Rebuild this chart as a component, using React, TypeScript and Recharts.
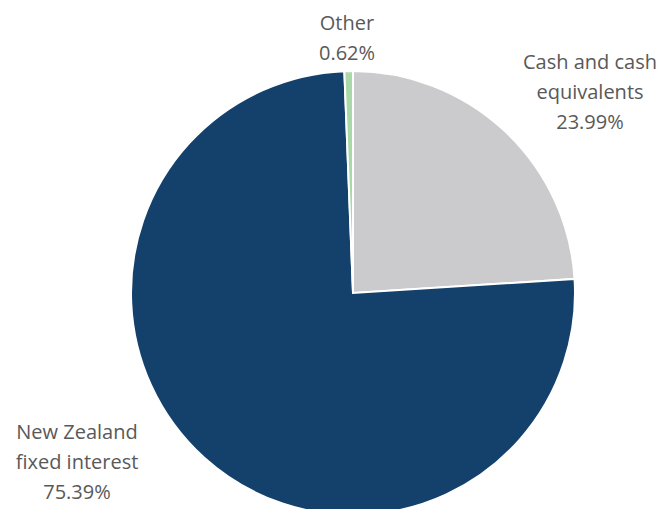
import { PieChart, Pie, Cell } from 'recharts'

const CATEGORIES = ['Cash and cash equivalents', 'New Zealand fixed interest', 'Other']
const VALUES = [23.99, 75.39, 0.62]
// label text lines per slice (category name wrapped as in the reference)
const LABEL_LINES = [
  ['Cash and cash', 'equivalents'],
  ['New Zealand', 'fixed interest'],
  ['Other'],
]

const COLORS = ['#cbcbcd', '#14416c', '#a9d8a9']
// label block centre, relative to pie centre
const LABEL_OFFSETS = [
  { dx: 237, dy: -202 },
  { dx: -276, dy: 168 },
  { dx: -6, dy: -256 },
]

const data = CATEGORIES.map((name, i) => ({ name, value: VALUES[i] }))

const FONT = '"Open Sans", sans-serif'
const LINE_H = 30

function renderLabel(props: any) {
  const { cx, cy, index, value } = props
  const off = LABEL_OFFSETS[index]
  const lines = [...LABEL_LINES[index], `${Number(value).toFixed(2)}%`]
  const x = cx + off.dx
  const top = cy + off.dy - ((lines.length - 1) * LINE_H) / 2
  return (
    <text
      key={`lbl-${index}`}
      x={x}
      y={top}
      textAnchor="middle"
      dominantBaseline="central"
      fill="#595959"
      fontSize={20}
      fontFamily={FONT}
    >
      {lines.map((l, j) => (
        <tspan key={j} x={x} y={top + j * LINE_H}>
          {l}
        </tspan>
      ))}
    </text>
  )
}

export default function App() {
  return (
    <div style={{ position: 'absolute', left: 0, top: 0, width: 662, height: 509, background: '#fff' }}>
      <PieChart width={662} height={509} margin={{ top: 0, right: 0, bottom: 0, left: 0 }}>
        <Pie
          data={data}
          dataKey="value"
          nameKey="name"
          cx={353}
          cy={293}
          outerRadius={222}
          startAngle={90}
          endAngle={-270}
          stroke="#ffffff"
          strokeWidth={2}
          label={renderLabel}
          labelLine={false}
          isAnimationActive={false}
        >
          {data.map((d, i) => (
            <Cell key={d.name} fill={COLORS[i]} />
          ))}
        </Pie>
      </PieChart>
    </div>
  )
}
